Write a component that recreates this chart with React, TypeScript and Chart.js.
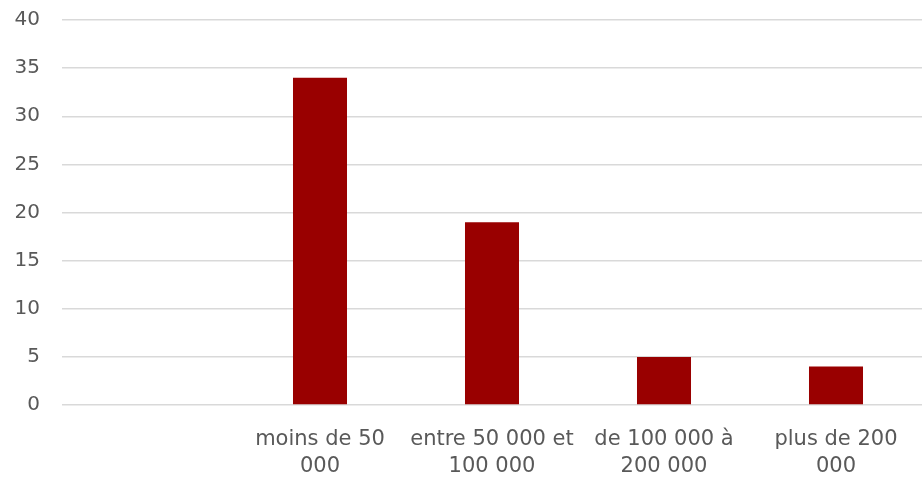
import React, { useEffect, useRef } from "react";
import { Chart, registerables } from "chart.js";

Chart.register(...registerables);

const categories: (string | string[])[] = [
  "",
  ["moins de 50", "000"],
  ["entre 50 000 et", "100 000"],
  ["de 100 000 à", "200 000"],
  ["plus de 200", "000"],
];
const values: (number | null)[] = [null, 34, 19, 5, 4];
const yTicks = { min: 0, max: 40, step: 5 };

const FONT = "'DejaVu Sans', 'Noto Sans', sans-serif";
const TEXT = "#595959";

export default function App() {
  const ref = useRef<HTMLCanvasElement | null>(null);
  useEffect(() => {
    if (!ref.current) return;
    const chart = new Chart(ref.current, {
      type: "bar",
      data: {
        labels: categories,
        datasets: [
          {
            data: values,
            backgroundColor: "#990000",
            borderWidth: 0,
            categoryPercentage: 1,
            barPercentage: 0.314,
          },
        ],
      },
      options: {
        animation: false,
        responsive: false,
        maintainAspectRatio: false,
        layout: { padding: { top: 20, left: 0, right: 0, bottom: 0 } },
        plugins: { legend: { display: false }, tooltip: { enabled: false } },
        scales: {
          x: {
            grid: { display: false, drawTicks: false },
            border: { display: false },
            ticks: {
              color: TEXT,
              font: { family: FONT, size: 21, lineHeight: 1.3 },
              padding: 21,
              maxRotation: 0,
              autoSkip: false,
            },
            afterFit: (s: any) => {
              s.height = 73;
            },
          },
          y: {
            min: yTicks.min,
            max: yTicks.max,
            grid: {
              color: "#d9d9d9",
              lineWidth: 1.5,
              drawTicks: true,
              tickLength: 22,
              tickColor: "rgba(0,0,0,0)",
            },
            border: { display: false },
            ticks: {
              stepSize: yTicks.step,
              color: TEXT,
              font: { family: FONT, size: 20 },
              padding: 0,
            },
            afterFit: (s: any) => {
              s.width = 62;
            },
          },
        },
      },
    });
    return () => chart.destroy();
  }, []);
  return (
    <div style={{ position: "fixed", left: 0, top: 0, width: 922, height: 478, background: "#fff" }}>
      <canvas ref={ref} width={922} height={478} style={{ width: 922, height: 478 }} />
    </div>
  );
}
